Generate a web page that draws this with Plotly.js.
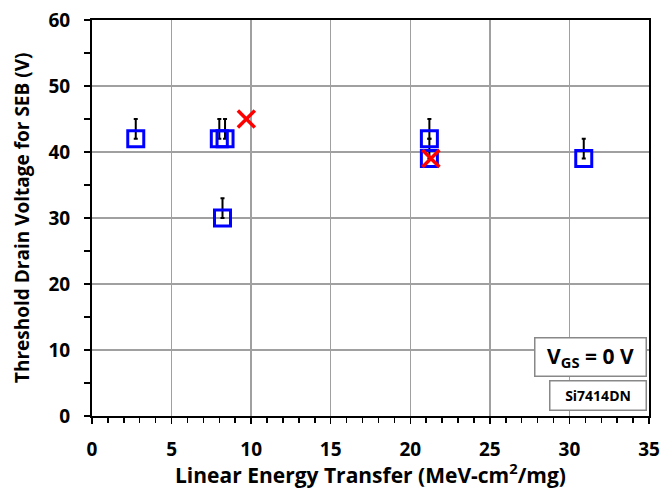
<!DOCTYPE html>
<html>
<head>
<script src="https://cdn.plot.ly/plotly-3.0.1.min.js"></script>
<style>body{margin:0;padding:0;background:#fff}#chart{width:663px;height:491px}</style>
</head>
<body>
<div id="chart"></div>
<script>
// Measured data (blue open squares with upward error bars)
const letValues = [2.75, 8.0, 8.36, 8.2, 21.2, 21.2, 30.9];
const thresholdVoltage = [42, 42, 42, 30, 42, 39, 39];
const errorUp = [3, 3, 3, 3, 3, 3, 3];
// Red X points
const letRed = [9.7, 21.3];
const voltageRed = [45, 39];

const xTicks = [0, 5, 10, 15, 20, 25, 30, 35];
const yTicks = [0, 10, 20, 30, 40, 50, 60];

const FONT = '"Open Sans", "Liberation Sans", sans-serif';

const traces = [
  {
    x: letValues, y: thresholdVoltage, type: 'scatter', mode: 'markers',
    marker: {symbol: 'square-open', size: 16, color: '#0000ff', line: {width: 3, color: '#0000ff'}},
    error_y: {type: 'data', symmetric: false, array: errorUp, arrayminus: letValues.map(() => 0),
              color: '#000', thickness: 2, width: 2},
    showlegend: false, hoverinfo: 'x+y'
  },
  {
    x: letRed, y: voltageRed, type: 'scatter', mode: 'markers',
    marker: {symbol: 'x-thin-open', size: 17, color: '#ff0000', line: {width: 3.5, color: '#ff0000'}},
    showlegend: false, hoverinfo: 'x+y'
  },
  // invisible trace bound to the label-only overlay axes
  {
    x: letRed, y: voltageRed, xaxis: 'x2', yaxis: 'y2', type: 'scatter', mode: 'markers',
    marker: {opacity: 0}, showlegend: false, hoverinfo: 'skip'
  }
];

const tickFont = {family: FONT, size: 19, color: '#000'};

const layout = {
  width: 663, height: 491,
  margin: {l: 92, r: 14, t: 20, b: 75},
  paper_bgcolor: '#fff', plot_bgcolor: '#fff',
  font: {family: FONT, color: '#000'},
  xaxis: {
    range: [0, 35], tickvals: xTicks, showticklabels: false,
    showgrid: true, gridcolor: '#a0a0a0', gridwidth: 1.5,
    showline: true, linecolor: '#000', linewidth: 2, mirror: true,
    ticks: 'outside', ticklen: 6, tickwidth: 1.5, tickcolor: '#000',
    minor: {dtick: 1, ticks: 'outside', ticklen: 5, tickwidth: 1.5, tickcolor: '#000', showgrid: false},
    zeroline: false
  },
  yaxis: {
    range: [0, 60], tickvals: yTicks, showticklabels: false,
    showgrid: true, gridcolor: '#a0a0a0', gridwidth: 1.5,
    showline: true, linecolor: '#000', linewidth: 2, mirror: true,
    ticks: 'outside', ticklen: 6, tickwidth: 1.5, tickcolor: '#000',
    minor: {dtick: 5, ticks: 'outside', ticklen: 6, tickwidth: 1.5, tickcolor: '#000', showgrid: false},
    zeroline: false
  },
  xaxis2: {
    overlaying: 'x', matches: 'x', anchor: 'y', side: 'bottom', range: [0, 35],
    tickvals: xTicks, ticktext: xTicks.map(v => '<b>' + v + '</b>'),
    ticks: 'outside', ticklen: 16, tickcolor: 'rgba(0,0,0,0)',
    showgrid: false, showline: false, zeroline: false, tickfont: tickFont
  },
  yaxis2: {
    overlaying: 'y', matches: 'y', anchor: 'x', side: 'left', range: [0, 60],
    tickvals: yTicks, ticktext: yTicks.map(v => '<b>' + v + '</b>'),
    ticks: 'outside', ticklen: 17, tickcolor: 'rgba(0,0,0,0)',
    showgrid: false, showline: false, zeroline: false, tickfont: tickFont
  },
  annotations: [
    {xref: 'paper', yref: 'paper', x: 0.5, y: 0, yshift: -57, xanchor: 'center', yanchor: 'middle',
     text: '<b>Linear Energy Transfer (MeV-cm<sup>2</sup>/mg)</b>', showarrow: false,
     font: {family: FONT, size: 21, color: '#000'}},
    {xref: 'paper', yref: 'paper', x: 0, y: 0.5, xshift: -70, xanchor: 'center', yanchor: 'middle',
     textangle: -90, text: '<b>Threshold Drain Voltage for SEB (V)</b>', showarrow: false,
     font: {family: FONT, size: 19, color: '#000'}},
    {xref: 'paper', yref: 'paper', x: 0.996, y: 0.15, xanchor: 'right', yanchor: 'middle',
     text: '<b>V<sub>GS</sub> = 0 V</b>', showarrow: false, font: {family: FONT, size: 21, color: '#000'},
     bgcolor: '#fff', bordercolor: '#888', borderwidth: 1.5, borderpad: 2, width: 106, height: 33},
    {xref: 'paper', yref: 'paper', x: 0.996, y: 0.053, xanchor: 'right', yanchor: 'middle',
     text: '<b>Si7414DN</b>', showarrow: false, font: {family: FONT, size: 14, color: '#000'},
     bgcolor: '#fff', bordercolor: '#888', borderwidth: 1.5, borderpad: 2, width: 91, height: 24}
  ]
};

Plotly.newPlot('chart', traces, layout, {displayModeBar: false, staticPlot: true});
</script>
</body>
</html>
